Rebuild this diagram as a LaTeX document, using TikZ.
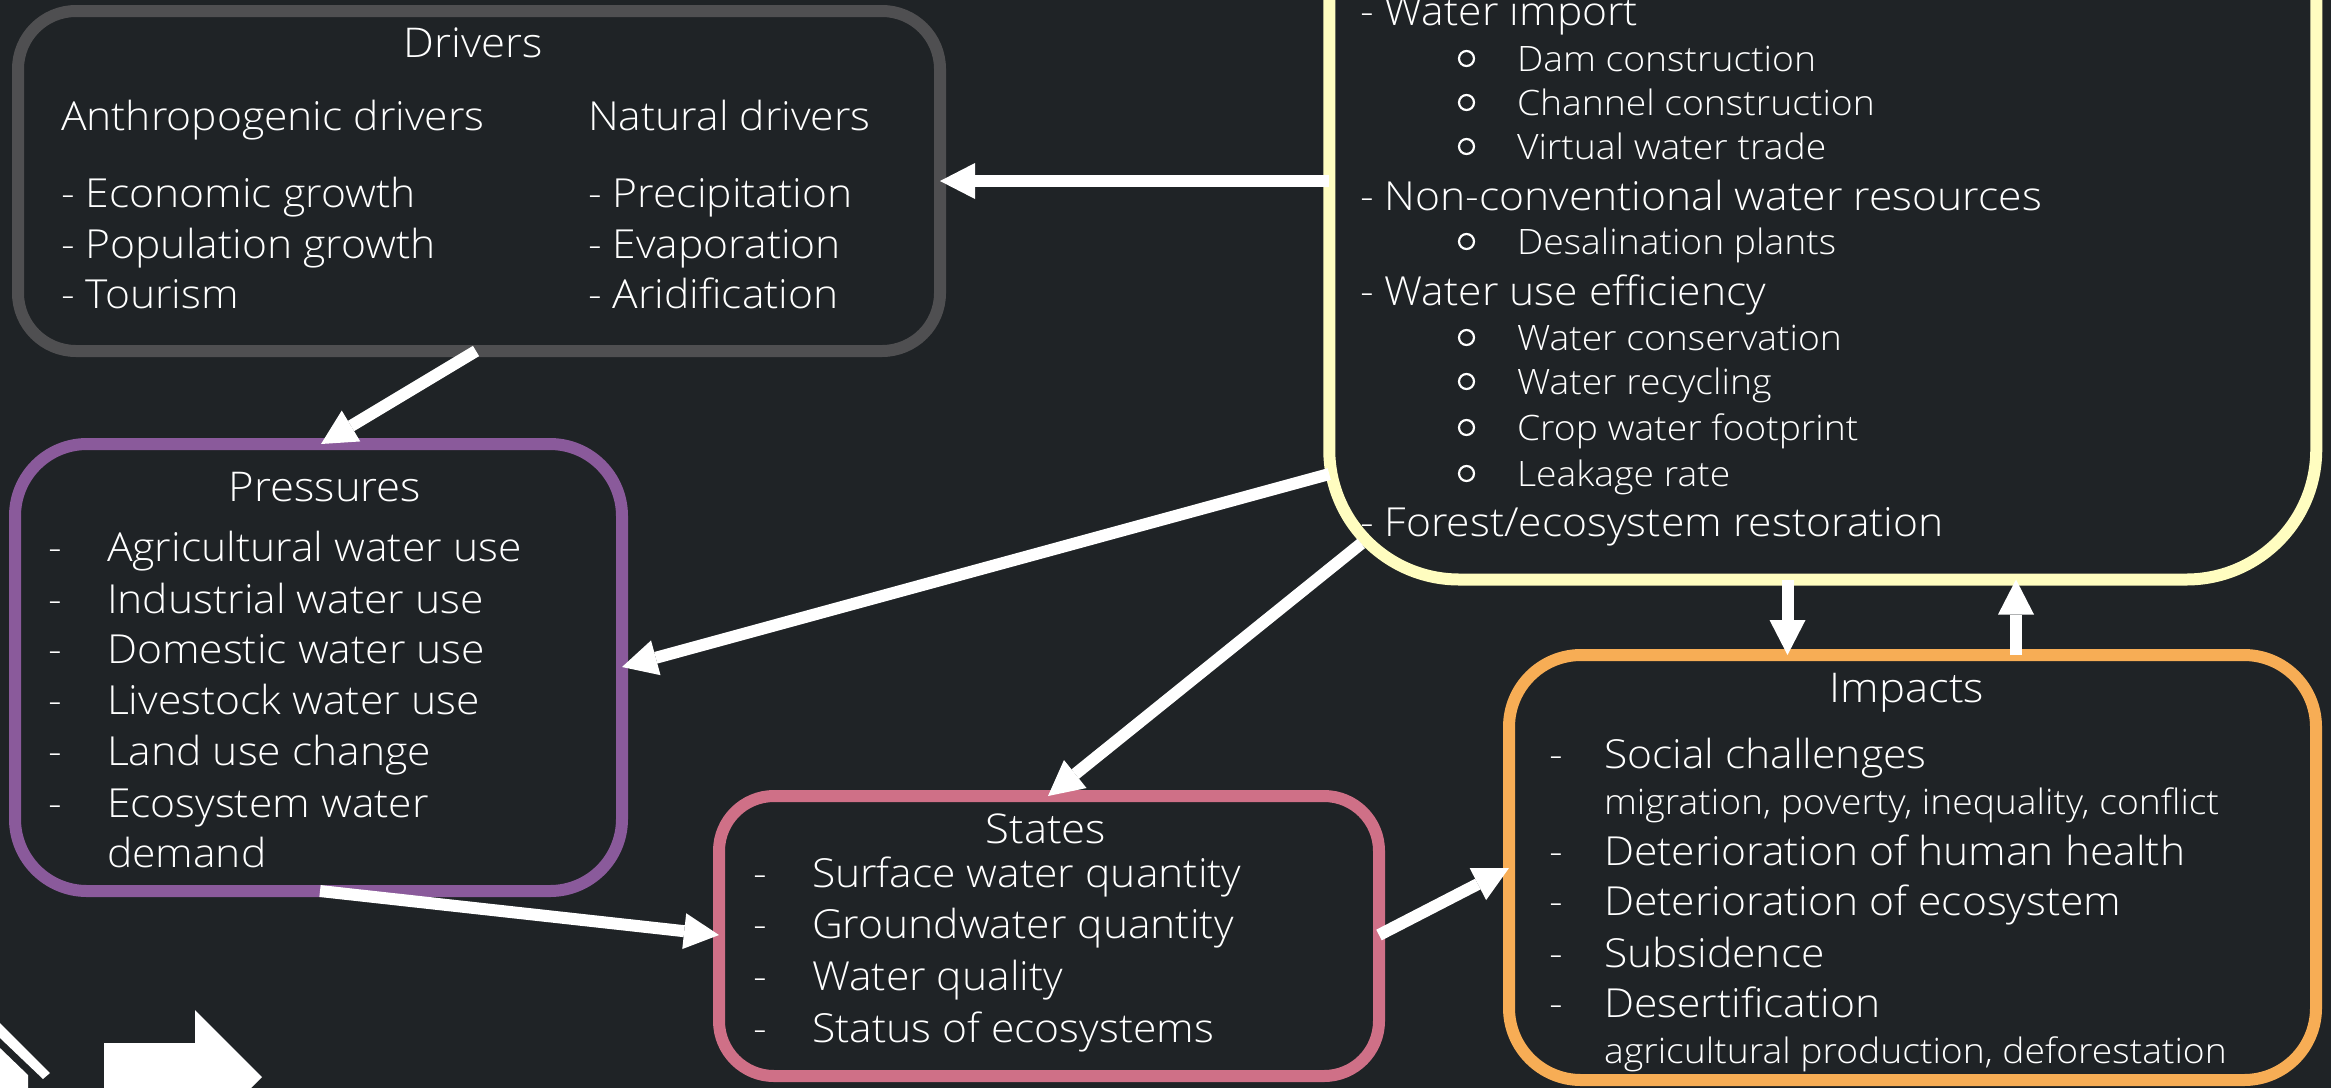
\documentclass[tikz,border=0pt]{standalone}
\usepackage{fontspec}
\setmainfont{Open Sans Light}[FakeStretch=1.065]
\usetikzlibrary{arrows.meta,calc}
\definecolor{bg}{RGB}{31,35,38}
\definecolor{cgray}{HTML}{4F4F51}
\definecolor{cyellow}{HTML}{FFFDC0}
\definecolor{cpurple}{HTML}{8A5A9B}
\definecolor{cpink}{HTML}{CF7087}
\definecolor{corange}{HTML}{F7AD55}
\begin{document}
\begin{tikzpicture}[x=1pt,y=-1pt,
  every node/.style={inner sep=0pt,outer sep=0pt},
  box/.style={draw=#1,line width=12pt,fill=bg},
  tx/.style={text=white,anchor=base west,font=\fontsize{#1}{#1}\selectfont},
  hd/.style={text=white,anchor=base,font=\fontsize{41}{41}\selectfont},
  bul/.style={circle,draw=white,line width=2.2pt,minimum size=15pt},
  arr/.style={draw=white,line width=12pt,-{Triangle[width=36pt,length=35pt,line width=0pt]}}]
\useasboundingbox (0,0) rectangle (2331,1088);
\fill[bg] (0,0) rectangle (2331,1088);
% boxes
\node[box=cgray,rounded corners=58pt,minimum width=922pt,minimum height=340pt] (drivers) at (479,181) {};
\node[box=cyellow,rounded corners=130pt,minimum width=987pt,minimum height=900pt] (responses) at (1822.75,129.5) {};
\node[box=cpurple,rounded corners=72pt,minimum width=607pt,minimum height=447pt] (pressures) at (318.5,667.5) {};
\node[box=cpink,rounded corners=55pt,minimum width=660pt,minimum height=280pt] (states) at (1049,936) {};
\node[box=corange,rounded corners=72pt,minimum width=807pt,minimum height=425pt] (impacts) at (1912.5,867.5) {};
% drivers text
\node[hd] (dT) at (473,57) {Drivers};
\node[tx=40] (dA) at (61,130) {Anthropogenic drivers};
\node[tx=40] (dN) at (588,130) {Natural drivers};
\node[tx=40] (dA1) at (61,207) {- Economic growth};
\node[tx=40] (dA2) at (61,258) {- Population growth};
\node[tx=40] (dA3) at (61,308) {- Tourism};
\node[tx=40] (dN1) at (588,207) {- Precipitation};
\node[tx=40] (dN2) at (588,258) {- Evaporation};
\node[tx=40] (dN3) at (588,308) {- Aridification};
% pressures text
\node[hd] (pT) at (325,501) {Pressures};
\foreach \yy/\ss [count=\i] in {561/{Agricultural water use},613/{Industrial water use},663/{Domestic water use},714/{Livestock water use},765/{Land use change},817/{Ecosystem water}}{
  \node[tx=40] (pd\i) at (48,\yy) {-};
  \node[tx=40] (p\i) at (107,\yy) {\ss};
}
\node[tx=40] (p7) at (107,867) {demand};
% states text
\node[hd] (sT) at (1046,843) {States};
\foreach \yy/\ss [count=\i] in {887/{Surface water quantity},938/{Groundwater quantity},990/{Water quality},1042/{Status of ecosystems}}{
  \node[tx=40] (sd\i) at (753,\yy) {-};
  \node[tx=40] (s\i) at (812,\yy) {\ss};
}
% impacts text
\node[hd] (iT) at (1907,702) {Impacts};
\foreach \yy/\ss [count=\i] in {768/{Social challenges},865/{Deterioration of human health},915/{Deterioration of ecosystem},967/{Subsidence},1017/{Desertification}}{
  \node[tx=40] (id\i) at (1549,\yy) {-};
  \node[tx=40] (i\i) at (1604,\yy) {\ss};
}
\node[tx=35] (i1s) at (1604,814) {migration, poverty, inequality, conflict};
\node[tx=35] (i5s) at (1604,1063) {agricultural production, deforestation};
% responses text
\foreach \yy/\ss [count=\i] in {25/{- Water import},210/{- Non-conventional water resources},305/{- Water use efficiency},536/{- Forest/ecosystem restoration}}{
  \node[tx=40] (r\i) at (1360,\yy) {\ss};
}
\foreach \yy/\ss [count=\i] in {71/{Dam construction},115/{Channel construction},159/{Virtual water trade},254/{Desalination plants},350/{Water conservation},394/{Water recycling},440/{Crop water footprint},486/{Leakage rate}}{
  \node[bul] (rb\i) at (1466.5,\yy-12.5) {};
  \node[tx=35] (rs\i) at (1517,\yy) {\ss};
}
% arrows
\draw[arr] (responses.west |- 0,181) -- (drivers.east |- 0,181);
\draw[arr] (drivers.south -| 476,0) -- (pressures.north -| 321,0);
\draw[arr] (responses.west |- 0,474) -- (pressures.east |- 0,667);
\draw[arr] ($(responses.south west)+(32,-36)$) -- (states.north -| 1048,0);
\draw[arr] (pressures.south -| 320,0) -- (states.west |- 0,935);
\draw[arr] (states.east |- 0,935) -- (impacts.west |- 0,868);
\draw[arr] (responses.south -| 1787.5,0) -- (impacts.north -| 1787.5,0);
\draw[arr] (impacts.north -| 2016,0) -- (responses.south -| 2016,0);
% legend fragments bottom left
\fill[white] (0,1023) -- (50,1073) -- (43,1079) -- (0,1038) -- cycle;
\fill[white] (0,1048) -- (28,1075) -- (28,1088) -- (0,1088) -- cycle;
\fill[white] (104,1043) -- (195,1043) -- (195,1010) -- (262,1077) -- (195,1144) -- (195,1111) -- (104,1111) -- cycle;
\end{tikzpicture}
\end{document}
